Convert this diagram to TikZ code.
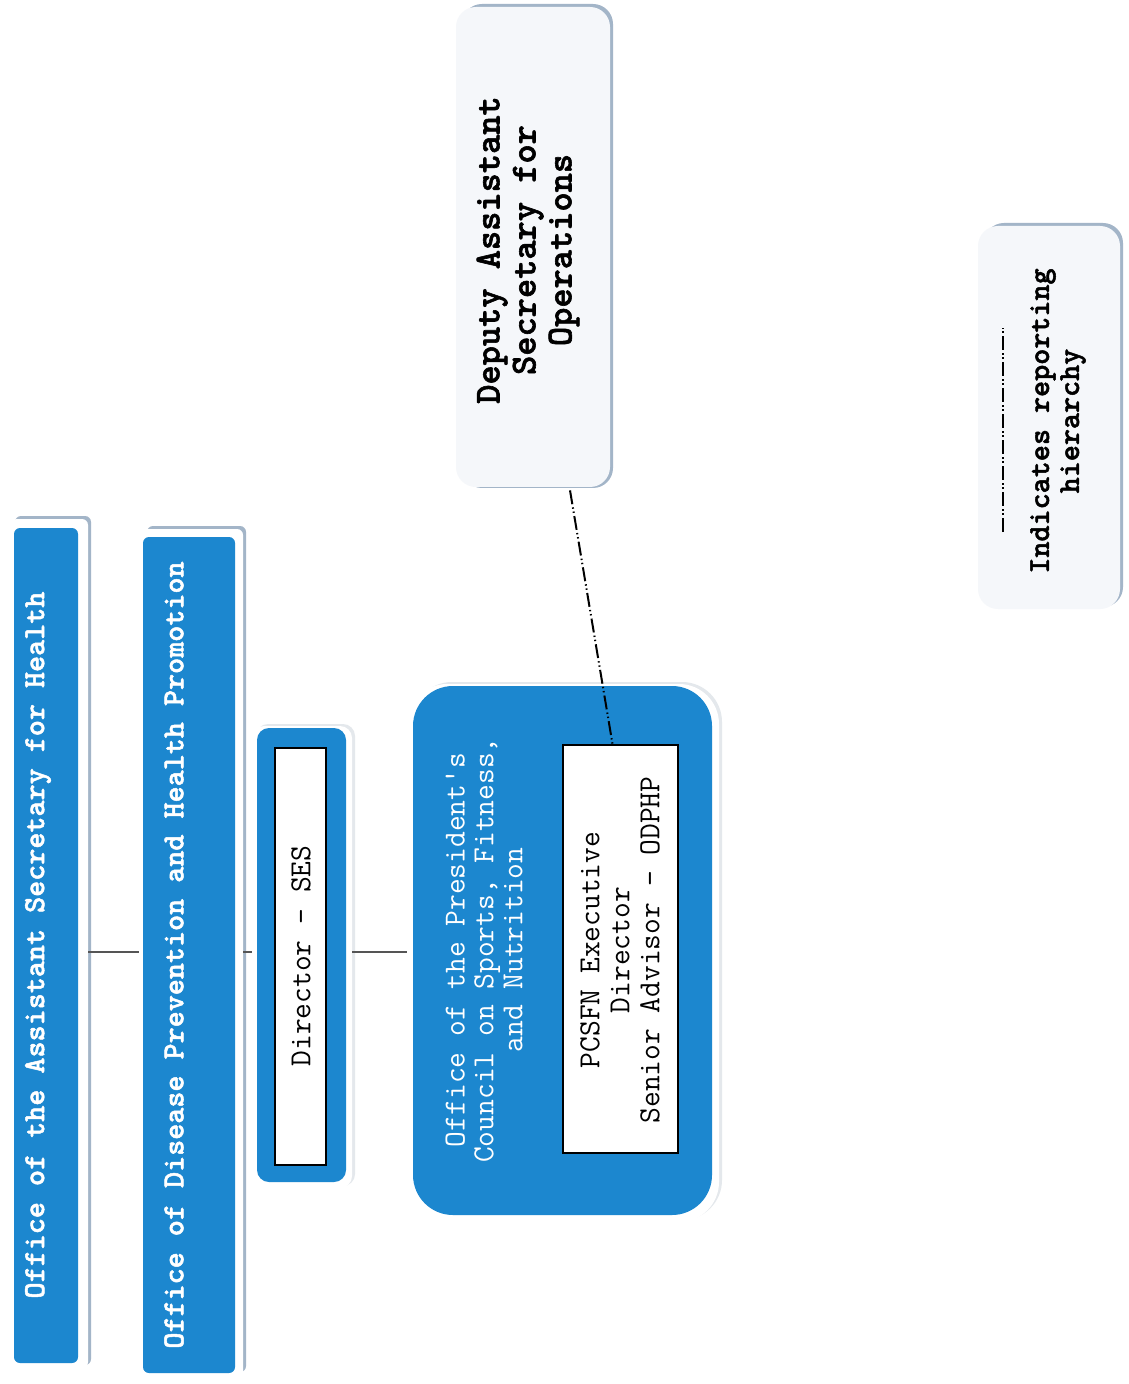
\documentclass[tikz,border=0pt]{standalone}
\usepackage{fontspec}
\newfontfamily\heavytt{lmmonolt10-bold.otf}[FakeBold=1.6]
\usetikzlibrary{fit}
\definecolor{hhsblue}{HTML}{1C87CF}
\definecolor{shadowc}{HTML}{A3B5C8}
\definecolor{faintsh}{HTML}{E4E8EC}
\definecolor{paleface}{HTML}{F5F7FA}
\definecolor{connc}{HTML}{555555}
\tikzset{
  frame/.style={fit={#1}, inner sep=0pt, fill=white, rounded corners=3pt},
  paleframe/.style={fit={#1}, inner sep=0pt, fill=paleface, rounded corners=10pt},
  innerbox/.style={fit={#1}, inner sep=0pt, fill=white, draw=black, line width=1pt},
  bluelabel/.style={rotate=90, align=center, text=white, font=\heavytt\fontsize{15.3}{15}\selectfont},
  whitelabel/.style={rotate=90, align=center, text=white, font=\ttfamily\fontsize{15.3}{14.4}\selectfont},
  blacklabel/.style={rotate=90, align=center, text=black, font=\ttfamily\fontsize{15.3}{15}\selectfont},
  boldlabel/.style={rotate=90, align=center, text=black, font=\heavytt\fontsize{15.3}{15}\selectfont},
  biglabel/.style={rotate=90, align=center, text=black, font=\heavytt\fontsize{18.3}{18}\selectfont},
  conn/.style={draw=connc, line width=0.8pt},
  rep/.style={draw=black, line width=1pt, dash pattern=on 7pt off 1.6pt on 0.7pt off 1.4pt on 0.7pt off 1.6pt},
}
\begin{document}
\begin{tikzpicture}[x=0.5pt,y=-0.5pt]
\useasboundingbox (0,0) rectangle (1128,1384);
\fill[white] (0,0) rectangle (1128,1384);

% Box 1: Office of the Assistant Secretary for Health
\fill[shadowc, rounded corners=3pt] (15,516) rectangle (91,1365);
\node[frame={(11,519)(88,1368)}] (oash) {};
\fill[hhsblue, rounded corners=3pt] (14,528) rectangle (78,1363);
\node[bluelabel] (oasht) at (38,945) {Office of the Assistant Secretary for Health};

% Box 2: ODPHP
\fill[shadowc, rounded corners=3pt] (147,526) rectangle (246,1372);
\node[frame={(139,529)(243,1377)}] (odphp) {};
\fill[hhsblue, rounded corners=3pt] (143,537) rectangle (235,1373);
\node[bluelabel] (odphpt) at (174,955) {Office of Disease Prevention and Health Promotion};

% Box 3: Director - SES
\fill[faintsh, rounded corners=6pt] (256,724) rectangle (355,1186);
\node[frame={(252,726)(352,1188)}, rounded corners=6pt] (dir) {};
\fill[hhsblue, rounded corners=6pt] (257,728) rectangle (346,1182);
\node[innerbox={(275,748)(326,1165)}] (dirin) {};
\node[blacklabel] (dirt) at (301,956) {Director - SES};

% Box 4: PCSFN
\fill[faintsh, rounded corners=20pt] (412,682) rectangle (722,1220);
\node[frame={(407,684)(719,1222)}, rounded corners=20pt] (pcsfnbox) {};
\fill[hhsblue, rounded corners=20pt] (413,686) rectangle (712,1215);
\node[whitelabel] (pcsfnt) at (484,950) {Office of the President's\\Council on Sports, Fitness,\\and Nutrition};
\node[innerbox={(563,745)(678,1153)}] (pcsfn) {};
\node[blacklabel] (pcsfnin) at (620,950) {PCSFN Executive\\Director\\Senior Advisor - ODPHP};

% Box 5: Deputy Assistant Secretary for Operations
\fill[shadowc, rounded corners=10pt] (462,4) rectangle (613,488);
\node[paleframe={(456,7)(610,487)}] (dep) {};
\node[biglabel] (dept) at (528,250) {Deputy Assistant\\Secretary for\\Operations};

% Box 6: legend
\fill[shadowc, rounded corners=10pt] (984,223) rectangle (1123,607);
\node[paleframe={(978,226)(1120,609)}] (legend) {};
\draw[rep] (1003,532) -- (1003,328);
\node[boldlabel] (legendt) at (1058,421) {Indicates reporting\\hierarchy};

% Connectors
\coordinate (lvl) at (0,952);
\draw[conn] (oash.east |- lvl) -- (odphp.west |- lvl);
\draw[conn] (odphp.east |- lvl) -- (dir.west |- lvl);
\draw[conn] (dir.east |- lvl) -- (pcsfnbox.west |- lvl);
\draw[rep] ([xshift=18.5pt,yshift=-1.5pt]dep.south) -- ([xshift=-4pt]pcsfn.north);
\end{tikzpicture}
\end{document}
